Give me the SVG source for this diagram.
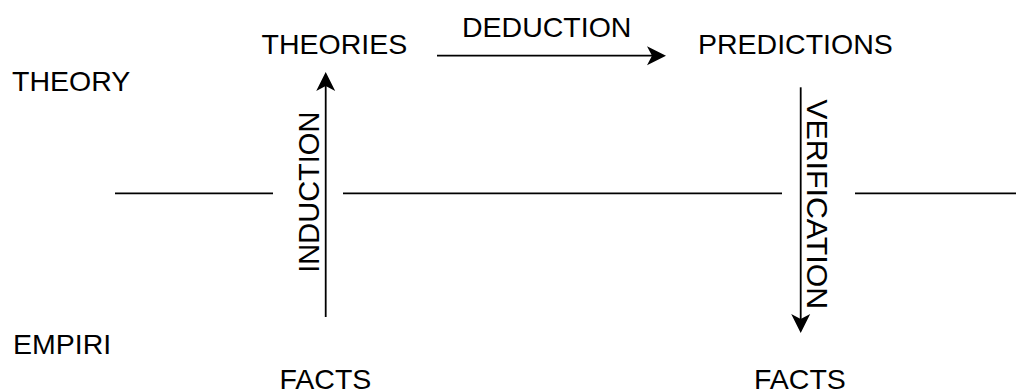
<svg xmlns="http://www.w3.org/2000/svg" width="1016" height="392" viewBox="0 0 1016 392">
<style>
  text { font-family: "Liberation Sans", Arial, sans-serif; font-size: 28.5px; fill: #000; }
  .ln { stroke: #000; stroke-width: 1.8; fill: none; }
</style>
<defs>
  <marker id="ah" markerUnits="userSpaceOnUse" viewBox="0 -10 20 20" markerWidth="20" markerHeight="20" refX="5" refY="0" orient="auto" overflow="visible">
    <path d="M0,-9.5 L19,0 L0,9.5 L5,0 Z" fill="#000"/>
  </marker>
</defs>
<rect width="1016" height="392" fill="#fff"/>
<g id="labels">
  <text x="12" y="90.5">THEORY</text>
  <text x="13" y="354">EMPIRI</text>
</g>
<g id="divider">
  <line class="ln" x1="115" y1="193.3" x2="273" y2="193.3"/>
  <line class="ln" x1="343" y1="193.3" x2="782" y2="193.3"/>
  <line class="ln" x1="855" y1="193.3" x2="1016" y2="193.3"/>
</g>
<g id="theories"><text x="261.5" y="54">THEORIES</text></g>
<g id="predictions"><text x="698" y="54">PREDICTIONS</text></g>
<g id="facts1"><text x="279.5" y="389">FACTS</text></g>
<g id="facts2"><text x="754" y="389">FACTS</text></g>
<g id="connectors">
  <line class="ln" x1="437" y1="55.7" x2="652" y2="55.7" marker-end="url(#ah)"/>
  <line class="ln" x1="325.7" y1="317" x2="325.7" y2="86" marker-end="url(#ah)"/>
  <line class="ln" x1="800.7" y1="87.3" x2="800.7" y2="319" marker-end="url(#ah)"/>
  <text x="462" y="37.3">DEDUCTION</text>
  <text transform="translate(319.3,192.2) rotate(-90)" text-anchor="middle" style="font-size:29px">INDUCTION</text>
  <text transform="translate(806.7,204.2) rotate(90)" text-anchor="middle" style="font-size:30.3px">VERIFICATION</text>
</g>
</svg>
